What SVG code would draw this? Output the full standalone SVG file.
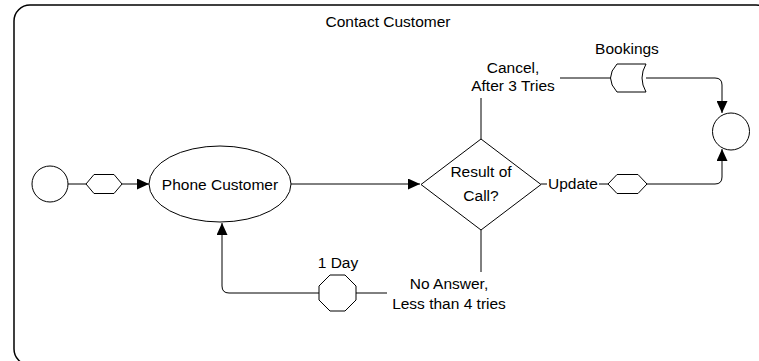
<svg xmlns="http://www.w3.org/2000/svg" width="759" height="361" viewBox="0 0 759 361">
<defs>
<style>
.shape{fill:#fff;stroke:#000;stroke-width:1}
.conn{fill:none;stroke:#000;stroke-width:1}
text{font-family:"Liberation Sans",Arial,sans-serif;font-size:15.5px;fill:#000;text-anchor:middle}
</style>
<marker id="arr" viewBox="0 0 12 11" markerWidth="12" markerHeight="11" refX="12" refY="5.5" orient="auto" markerUnits="userSpaceOnUse">
<path d="M0,0 L12,5.5 L0,11 Z" fill="#000"/>
</marker>
</defs>
<rect x="0" y="0" width="759" height="361" fill="#fff"/>
<g id="pool">
<rect x="14" y="5" width="758" height="360" rx="16" ry="16" fill="none" stroke="#000" stroke-width="1.5"/>
<text x="388" y="27">Contact Customer</text>
</g>
<g id="connectors">
<path class="conn" d="M68,184 L86,184"/>
<path class="conn" d="M122,184 L149,184" marker-end="url(#arr)"/>
<path class="conn" d="M291,184 L420,184" marker-end="url(#arr)"/>
<path class="conn" d="M481,139 L481,98"/>
<path class="conn" d="M560,78 L611,78"/>
<path class="conn" d="M646,78 L715,78 Q722,78 722,85 L722,113" marker-end="url(#arr)"/>
<path class="conn" d="M541,184 L547,184"/>
<path class="conn" d="M599,184 L608,184"/>
<path class="conn" d="M647,184 L715,184 Q722,184 722,177 L722,149" marker-end="url(#arr)"/>
<path class="conn" d="M481,230 L481,272"/>
<path class="conn" d="M387,293 L356,293"/>
<path class="conn" d="M319,293 L229,293 Q222,293 222,286 L222,223" marker-end="url(#arr)"/>
</g>
<g id="start">
<circle class="shape" cx="50" cy="184" r="18"/>
</g>
<g id="message-start">
<polygon class="shape" points="86,184 94,174.5 114,174.5 122,184 114,193.5 94,193.5"/>
</g>
<g id="phone-customer">
<ellipse class="shape" cx="220" cy="184" rx="71" ry="38"/>
<text x="220" y="189.5">Phone Customer</text>
</g>
<g id="result-of-call">
<polygon class="shape" points="481,139 541,184.5 481,230 421,184.5"/>
<text x="481" y="177">Result of</text>
<text x="481" y="201">Call?</text>
</g>
<g id="label-cancel">
<text x="513" y="73">Cancel,</text>
<text x="513" y="91">After 3 Tries</text>
</g>
<g id="bookings">
<path class="shape" d="M617,64 L646,64 Q638,78 646,92 L617,92 Q604,78 617,64 Z"/>
<text x="627" y="54">Bookings</text>
</g>
<g id="label-update">
<text x="573" y="189">Update</text>
</g>
<g id="message-update">
<polygon class="shape" points="608,184 617,174.5 638,174.5 647,184 638,193.5 617,193.5"/>
</g>
<g id="end">
<circle class="shape" cx="731" cy="131.5" r="18.5"/>
</g>
<g id="label-no-answer">
<text x="449" y="289">No Answer,</text>
<text x="449" y="309">Less than 4 tries</text>
</g>
<g id="timer-1-day">
<polygon class="shape" points="330,275 345,275 356,286 356,300 345,311 330,311 319,300 319,286"/>
<text x="338" y="268">1 Day</text>
</g>
</svg>
